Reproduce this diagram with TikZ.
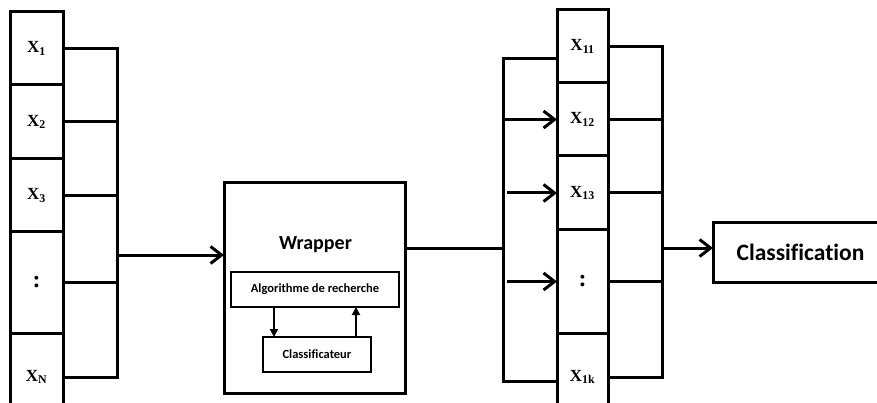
\documentclass[tikz,border=0pt]{standalone}
\usepackage{fontspec}
\setmainfont{Liberation Serif}
\newfontfamily\calib[Ligatures=CommonOff]{Carlito}
\usetikzlibrary{arrows.meta,positioning}
\tikzset{
  featbox/.style={draw=black, line width=3pt, outer sep=0pt, minimum width=53pt,
    font=\fontsize{17}{20}\selectfont\bfseries},
  wrapbox/.style={draw=black, line width=3pt, outer sep=0pt},
  inbox/.style={draw=black, line width=2pt, outer sep=0pt, minimum height=35pt,
    font=\calib\fontsize{12.5}{15}\selectfont\bfseries},
  wire/.style={line width=3pt},
  arr/.style={-{Straight Barb[length=11pt,width=17pt]}, line width=3pt},
  sarr/.style={-{Triangle[length=8pt,width=8pt]}, line width=2.5pt}
}
\newcommand{\dotsym}{\fontsize{24}{24}\selectfont :}
\begin{document}
\begin{tikzpicture}[x=1pt, y=-1pt]
  \clip (0,0) rectangle (877,403);

  % input features
  \node[featbox, minimum height=73pt] (x1) at (36.5,48.5) {X\textsubscript{1}};
  \node[featbox, minimum height=74pt, below=0pt of x1] (x2) {X\textsubscript{2}};
  \node[featbox, minimum height=73pt, below=0pt of x2] (x3) {X\textsubscript{3}};
  \node[featbox, minimum height=101pt, below=0pt of x3] (xd) {\dotsym};
  \node[featbox, minimum height=88pt, below=0pt of xd] (xN) {X\textsubscript{N}};

  % wrapper
  \node[wrapbox, minimum width=181pt, minimum height=210pt] (wrap) at (314.5,288) {};
  \node[font=\calib\fontsize{20}{24}\selectfont\bfseries] (wtitle) at (315.5,245) {Wrapper};
  \node[inbox, minimum width=168pt] (algo) at (315,289.5) {Algorithme de recherche};
  \node[inbox, minimum width=108pt] (clf) at (317,354.5) {Classificateur};
  \draw[sarr] ([xshift=-41pt]algo.south) -- ([xshift=-41pt]algo.south |- clf.north);
  \draw[sarr] ([xshift=39pt]clf.north) -- ([xshift=39pt]clf.north |- algo.south);

  % selected features
  \node[featbox, minimum width=51pt, minimum height=73pt] (x11) at (582.5,46.5) {X\textsubscript{11}};
  \node[featbox, minimum width=51pt, minimum height=73pt, below=0pt of x11] (x12) {X\textsubscript{12}};
  \node[featbox, minimum width=51pt, minimum height=74pt, below=0pt of x12] (x13) {X\textsubscript{13}};
  \node[featbox, minimum width=51pt, minimum height=103pt, below=0pt of x13] (xe) {\dotsym};
  \node[featbox, minimum width=51pt, minimum height=88pt, below=0pt of xe] (x1k) {X\textsubscript{1k}};

  \node[wrapbox, minimum width=175pt, minimum height=59pt,
    font=\calib\fontsize{23.5}{28}\selectfont\bfseries] (cls) at (800.5,252.5) {Classification};

  % buses
  \coordinate (busL) at (117,255);
  \coordinate (busM) at (503,248);
  \coordinate (busR) at (662,248);

  \draw[wire] (x1.east) -| (busL) |- (xN.east);
  \foreach \n in {x2,x3,xd} \draw[wire] (\n.east) -- (\n.east -| busL);
  \draw[arr] (busL) -- (busL -| wrap.west);

  \draw[wire] (wrap.east |- busM) -- (busM);
  \draw[wire] ([yshift=-12.5pt]x11.west) -| (busM) |- ([yshift=-4pt]x1k.west);
  \draw[arr] (busM |- x12.west) -- (x12.west);
  \draw[arr] ([xshift=4pt]busM |- x13.west) -- (x13.west);
  \draw[arr] ([xshift=4pt]busM |- xe.west) -- (xe.west);

  \draw[wire] (x11.east) -| (busR) |- (x1k.east);
  \foreach \n in {x12,x13,xe} \draw[wire] (\n.east) -- (\n.east -| busR);
  \draw[arr] (busR) -- (busR -| cls.west);
\end{tikzpicture}
\end{document}
